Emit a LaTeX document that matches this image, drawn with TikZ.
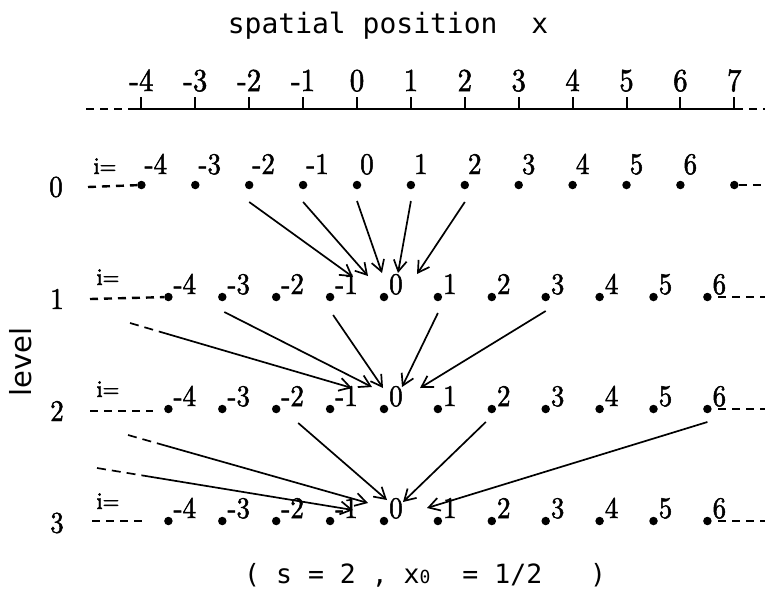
\documentclass[tikz,border=0pt]{standalone}
\usepackage{fontspec}
\newfontfamily\monofont{DejaVu Sans Mono}
\newfontfamily\levelfont{DejaVu Sans}
\newfontfamily\numfont{lmroman10-regular}[Extension=.otf, FakeBold=1.6, FakeStretch=0.9]
\usetikzlibrary{arrows.meta}

\begin{document}
\begin{tikzpicture}[x=1pt, y=-1pt,
    dot/.style={circle, fill, inner sep=0pt, minimum size=8.5pt},
    num/.style={font=\numfont\fontsize{30}{30}\selectfont, inner sep=0pt},
    axnum/.style={font=\numfont\fontsize{32}{32}\selectfont, inner sep=0pt, anchor=base},
    ieq/.style={font=\numfont\fontsize{24}{24}\selectfont, inner sep=0pt},
    dashline/.style={line width=2.4pt, dash pattern=on 8pt off 6pt},
    arr/.style={-{Straight Barb[length=11pt,width=13pt]}, line width=1.7pt}]
  \useasboundingbox (0,0) rectangle (765,614);

  % axis
  \node[font=\monofont\fontsize{28}{28}\selectfont, inner sep=0pt, anchor=base] (title) at (388,33) {spatial position\ \ x};
  \coordinate (axl) at (133,109);
  \coordinate (axr) at (735,109);
  \draw[line width=2pt] (axl) -- (axr);
  \draw[dashline] (86,109) -- (axl);
  \draw[dashline] (axr) -- (765,109);
  \foreach \i in {-4,...,7} {
    \coordinate (t\i) at ({357+53.9*\i},109);
    \draw[line width=2pt] (t\i) -- ++(0,-12);
    \node[axnum] (tl\i) at ({357+53.9*\i},91) {\i};
  }

  % level 0
  \node[num] (lev0) at (56,187) {0};
  \node[ieq, anchor=base] (ieq0) at (105,174) {i=};
  \foreach \i in {-4,...,7}
    \node[dot] (p0\i) at ({357+53.9*\i},185) {};
  \foreach \i in {-4,...,6}
    \node[num, anchor=base west] (q0\i) at ([xshift=3pt,yshift=11pt]p0\i.center) {\i};
  \draw[dashline] (88,187) -- (p0-4);
  \draw[dashline] (p07) -- (765,185);

  % levels 1 to 3
  \foreach \l/\y in {1/297,2/409,3/521} {
    \node[num] (lev\l) at (57,{\y+2}) {\l};
    \node[ieq, anchor=base] (ieq\l) at (108,{\y-12}) {i=};
    \foreach \i in {-4,...,6} {
      \node[dot] (p\l\i) at ({384+53.9*\i},\y) {};
      \node[num, anchor=base west] (q\l\i) at ([xshift=5pt,yshift=3pt]p\l\i.center) {\i};
    }
    \draw[dashline] (718,\y) -- (765,\y);
  }
  \draw[dashline] (90,299) -- (p1-4);
  \draw[dashline] (90,411) -- (153,411);
  \draw[dashline] (92,521) -- (144,521);

  \node[font=\levelfont\fontsize{29}{29}\selectfont, rotate=90, inner sep=0pt] (level) at (21,362) {level};

  % level 0 -> 1
  \draw[arr] ([yshift=-17pt]p0-2.center) -- ([xshift=-31pt,yshift=20pt]p10.center);
  \draw[arr] ([yshift=-17pt]p0-1.center) -- ([xshift=-16pt,yshift=21pt]p10.center);
  \draw[arr] ([yshift=-16pt]p00.center) -- ([xshift=-2pt,yshift=24pt]p10.center);
  \draw[arr] ([yshift=-16pt]p01.center) -- ([xshift=14pt,yshift=24pt]p10.center);
  \draw[arr] ([yshift=-17pt]p02.center) -- ([xshift=33pt,yshift=23pt]p10.center);

  % level 1 -> 2
  \coordinate (u1) at (130,323);
  \draw[arr, dash pattern=on 9pt off 6pt on 9pt off 6pt on 600pt off 1pt] (u1) -- ([xshift=-32pt,yshift=21pt]p20.center);
  \draw[arr] ([xshift=2pt,yshift=-15pt]p1-3.center) -- ([xshift=-12pt,yshift=22pt]p20.center);
  \draw[arr] ([xshift=3pt,yshift=-18pt]p1-1.center) -- ([xshift=-1pt,yshift=21pt]p20.center);
  \draw[arr] ([yshift=-16pt]p11.center) -- ([xshift=18pt,yshift=22pt]p20.center);
  \draw[arr] ([yshift=-14pt]p13.center) -- ([xshift=36pt,yshift=21pt]p20.center);

  % level 2 -> 3
  \coordinate (u2) at (128,435);
  \coordinate (u3) at (97,468);
  \draw[arr, dash pattern=on 9pt off 6pt on 9pt off 6pt on 600pt off 1pt] (u2) -- ([xshift=-16pt,yshift=18pt]p30.center);
  \draw[arr, dash pattern=on 9pt off 6pt on 9pt off 6pt on 9pt off 6pt on 600pt off 1pt] (u3) -- ([xshift=-31pt,yshift=11pt]p30.center);
  \draw[arr] ([xshift=22pt,yshift=-14pt]p2-2.center) -- ([xshift=3pt,yshift=21pt]p30.center);
  \draw[arr] ([xshift=-6pt,yshift=-13pt]p22.center) -- ([xshift=19pt,yshift=19pt]p30.center);
  \draw[arr] ([yshift=-13pt]p26.center) -- ([xshift=43pt,yshift=13pt]p30.center);

  \node[font=\monofont\fontsize{26.5}{26.5}\selectfont, inner sep=0pt, anchor=base west] (params) at (244,583)
    {(\ s\ =\ 2\ ,\ x{\fontsize{18}{18}\selectfont 0}\ \ =\ 1/2\ \ \ )};
\end{tikzpicture}
\end{document}
